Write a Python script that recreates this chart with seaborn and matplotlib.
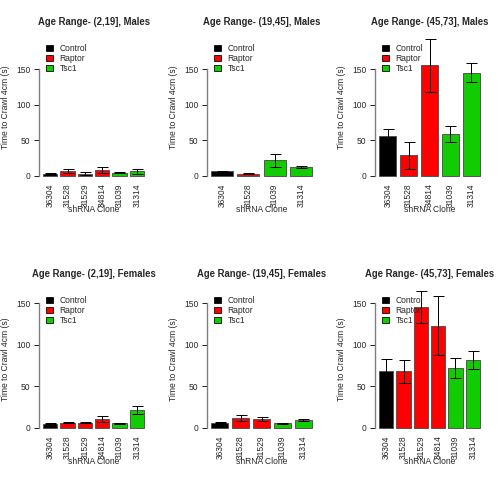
import matplotlib
matplotlib.use('Agg')
import matplotlib.pyplot as plt
from matplotlib.patches import Patch
import seaborn as sns
import pandas as pd
import numpy as np

sns.set_style('white')
plt.rcParams['font.family'] = ['Liberation Sans', 'DejaVu Sans']

## Data ########################################################################

gene_of_clone = {'36304': 'Control',
                 '31528': 'Raptor', '31529': 'Raptor', '34814': 'Raptor',
                 '31039': 'Tsc1', '31314': 'Tsc1'}
genes = ['Control', 'Raptor', 'Tsc1']
gene_colors = ['black', '#FF0000', '#11CC00']

titles = ['Age Range- (2,19], Males', 'Age Range- (19,45], Males',
          'Age Range- (45,73], Males', 'Age Range- (2,19], Females',
          'Age Range- (19,45], Females', 'Age Range- (45,73], Females']

panel_clones = [
    ['36304', '31528', '31529', '34814', '31039', '31314'],
    ['36304', '31528', '31039', '31314'],
    ['36304', '31528', '34814', '31039', '31314'],
    ['36304', '31528', '31529', '34814', '31039', '31314'],
    ['36304', '31528', '31529', '31039', '31314'],
    ['36304', '31528', '31529', '34814', '31039', '31314'],
]
# mean time to crawl 4cm (s)
panel_means = [
    [3, 7, 3, 8, 4, 6],
    [6, 3, 21.5, 12.5],
    [56.5, 28.5, 155.5, 59, 145],
    [5, 6, 6, 10.5, 5.5, 21],
    [6.3, 11.7, 10.3, 5.2, 9.3],
    [69, 68, 146, 123, 72, 82],
]
# standard errors
panel_se = [
    [0.8, 3, 1.8, 4, 0.8, 3.5],
    [1, 1, 9.5, 1.5],
    [9.5, 19.5, 37, 11.2, 13.5],
    [0.5, 0.5, 0.5, 3.5, 0.5, 4.8],
    [1, 3.3, 2.3, 0.5, 1.5],
    [14.5, 13.7, 19, 35.5, 12, 11],
]

## Plotting ####################################################################

palette = dict(zip(genes, gene_colors))
fig = plt.figure(figsize=(7, 7), dpi=72)

# shared y range per row (max of mean + se)
row_max = []
for r in range(2):
    row_max.append(max(max(np.array(panel_means[i]) + np.array(panel_se[i]))
                       for i in range(3 * r, 3 * r + 3)))

for i in range(6):
    r, c = divmod(i, 3)
    left = (c * 168 + 39) / 504
    bottom = [0.6405, 0.1405][r]
    ax = fig.add_axes([left, bottom, 109 / 504, 147.6 / 504])

    df = pd.DataFrame({'clone': panel_clones[i],
                       'time': panel_means[i],
                       'se': panel_se[i]})
    df['gene'] = df['clone'].map(gene_of_clone)
    n = len(df)

    sns.barplot(data=df, x='clone', y='time', hue='gene', hue_order=genes,
                palette=palette, order=panel_clones[i], dodge=False,
                width=1 / 1.2, edgecolor='#4d4d4d', linewidth=0.9,
                saturation=1, errorbar=None, legend=False, ax=ax)
    ax.errorbar(np.arange(n), df['time'], yerr=df['se'], fmt='none',
                ecolor='black', elinewidth=1, capsize=5.5, capthick=1)

    M = row_max[r]
    ax.set_ylim(-0.04 * M, 1.04 * M)
    span = n - 1 / 6
    ax.set_xlim(-1 / 2.4 - 0.04 * span, n - 1 + 1 / 2.4 + 0.04 * span)

    for s in ['top', 'right', 'bottom']:
        ax.spines[s].set_visible(False)
    ax.spines['left'].set_bounds(0, 150)
    ax.spines['left'].set_color('#808080')
    ax.spines['left'].set_linewidth(1.4)
    ax.set_yticks([0, 50, 100, 150])
    ax.tick_params(axis='y', length=5.5, width=1, color='#222222',
                   labelsize=8.5, pad=3, left=True)
    ax.tick_params(axis='x', length=0, labelsize=8.5, pad=2, labelrotation=90)

    ax.set_title(titles[i], fontsize=9.5, fontweight='bold', pad=9)
    ax.set_xlabel('shRNA Clone', fontsize=8.5)
    ax.xaxis.set_label_coords(0.5, -0.16)
    ax.set_ylabel('Time to Crawl 4cm (s)', fontsize=8.5)
    ax.yaxis.set_label_coords(-0.266, 0.5)

    handles = [Patch(facecolor=col, edgecolor='black', linewidth=0.8)
               for col in gene_colors]
    ax.legend(handles, genes, loc='upper left',
              bbox_to_anchor=(7 / 109, 1 - 10 / 147.6), frameon=False,
              fontsize=8.5, handlelength=0.8, handleheight=0.75,
              handletextpad=0.8, labelspacing=0.12, borderpad=0,
              borderaxespad=0)

fig.savefig('out.png', dpi=72, facecolor='white')
